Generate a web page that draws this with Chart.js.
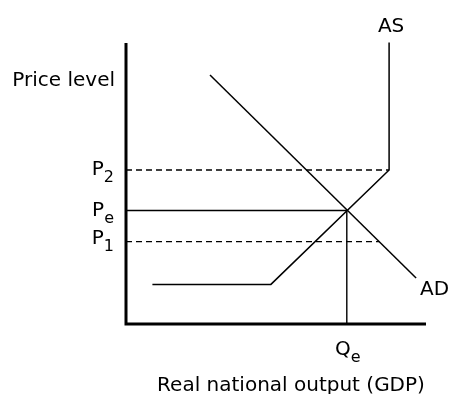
<!DOCTYPE html>
<html>
<head>
<meta charset="utf-8">
<script src="https://cdn.jsdelivr.net/npm/chart.js@4.4.1/dist/chart.umd.min.js"></script>
<style>
  html, body { margin: 0; padding: 0; background: #fff; }
  canvas { display: block; }
</style>
</head>
<body>
<canvas id="c" width="452" height="394"></canvas>
<script>
// ---- data ----
const xRange = [0, 100];
const yRange = [0, 100];
const asX = [8.8, 48.3, 87.7, 87.7];
const asY = [14.1, 14.1, 54.8, 100.2];
const adX = [28, 96.7];
const adY = [88.6, 16.4];
const eqQ = 73.6;          // Qe
const eqP = 40.4;          // Pe
const p2Level = 54.8;      // P2
const p1Level = 29.3;      // P1
const p1End = 84.4;        // where P1 meets AD
const axisTitleX = 'Real national output (GDP)';
const axisTitleY = 'Price level';
const priceLabels = [['P', '2'], ['P', 'e'], ['P', '1']];
const qLabel = ['Q', 'e'];
const curveLabels = ['AS', 'AD'];

const pts = (xs, ys) => xs.map((x, i) => ({ x: x, y: ys[i] }));
const FONT = '"DejaVu Sans", sans-serif';

const base = { showLine: true, pointRadius: 0, borderColor: '#000', fill: false, tension: 0, clip: false };

const datasets = [
  Object.assign({}, base, { label: 'axes', data: pts([xRange[0], xRange[0], xRange[1]], [yRange[1], yRange[0], yRange[0]]), borderWidth: 3, borderJoinStyle: 'miter' }),
  Object.assign({}, base, { label: 'P2', data: pts([xRange[0], asX[2]], [p2Level, p2Level]), borderWidth: 1.3, borderDash: [6, 4] }),
  Object.assign({}, base, { label: 'P1', data: pts([xRange[0], p1End], [p1Level, p1Level]), borderWidth: 1.3, borderDash: [6, 4] }),
  Object.assign({}, base, { label: 'Pe', data: pts([xRange[0], eqQ], [eqP, eqP]), borderWidth: 1.4 }),
  Object.assign({}, base, { label: 'Qe', data: pts([eqQ, eqQ], [eqP, yRange[0]]), borderWidth: 1.4 }),
  Object.assign({}, base, { label: 'AS', data: pts(asX, asY), borderWidth: 1.5 }),
  Object.assign({}, base, { label: 'AD', data: pts(adX, adY), borderWidth: 1.5 })
];

function subText(ctx, x, y, main, sub, size, align) {
  const subSize = Math.round(size * 0.8);
  ctx.font = size + 'px ' + FONT;
  const w1 = ctx.measureText(main).width;
  ctx.font = subSize + 'px ' + FONT;
  const w2 = ctx.measureText(sub).width;
  let x0 = x;
  if (align === 'right') x0 = x - w1 - w2;
  else if (align === 'center') x0 = x - (w1 + w2) / 2;
  ctx.textAlign = 'left';
  ctx.textBaseline = 'alphabetic';
  ctx.font = size + 'px ' + FONT;
  ctx.fillText(main, x0, y);
  ctx.font = subSize + 'px ' + FONT;
  ctx.fillText(sub, x0 + w1, y + 7);
}

const labelPlugin = {
  id: 'labels',
  afterDraw(chart) {
    const ctx = chart.ctx;
    const xs = chart.scales.x, ys = chart.scales.y;
    ctx.save();
    ctx.fillStyle = '#000';
    const size = 20;
    ctx.font = size + 'px ' + FONT;
    ctx.textBaseline = 'alphabetic';
    // AS label above the vertical part
    ctx.textAlign = 'center';
    ctx.fillText(curveLabels[0], xs.getPixelForValue(asX[3]) + 2, 32);
    // AD label beyond the end of AD
    ctx.textAlign = 'left';
    ctx.fillText(curveLabels[1], xs.getPixelForValue(adX[1]) + 4, ys.getPixelForValue(adY[1]) + 17);
    // y axis title
    ctx.textAlign = 'right';
    ctx.fillText(axisTitleY, chart.chartArea.left - 11, 86);
    // x axis title
    ctx.textAlign = 'center';
    ctx.fillText(axisTitleX, 291, 391);
    // price labels
    const levels = [p2Level, eqP, p1Level];
    const offs = [5, 6, 2];
    priceLabels.forEach((l, i) => {
      subText(ctx, chart.chartArea.left - 12, ys.getPixelForValue(levels[i]) + offs[i], l[0], l[1], size, 'right');
    });
    // Qe
    subText(ctx, xs.getPixelForValue(eqQ) + 1, 355, qLabel[0], qLabel[1], size, 'center');
    ctx.restore();
  }
};

new Chart(document.getElementById('c'), {
  type: 'scatter',
  data: { datasets: datasets },
  options: {
    responsive: false,
    devicePixelRatio: 1,
    animation: false,
    layout: { padding: { left: 126, right: 26, top: 43, bottom: 70 } },
    plugins: { legend: { display: false }, tooltip: { enabled: false } },
    scales: {
      x: { type: 'linear', min: xRange[0], max: xRange[1], display: false },
      y: { type: 'linear', min: yRange[0], max: yRange[1], display: false }
    }
  },
  plugins: [labelPlugin]
});
</script>
</body>
</html>
